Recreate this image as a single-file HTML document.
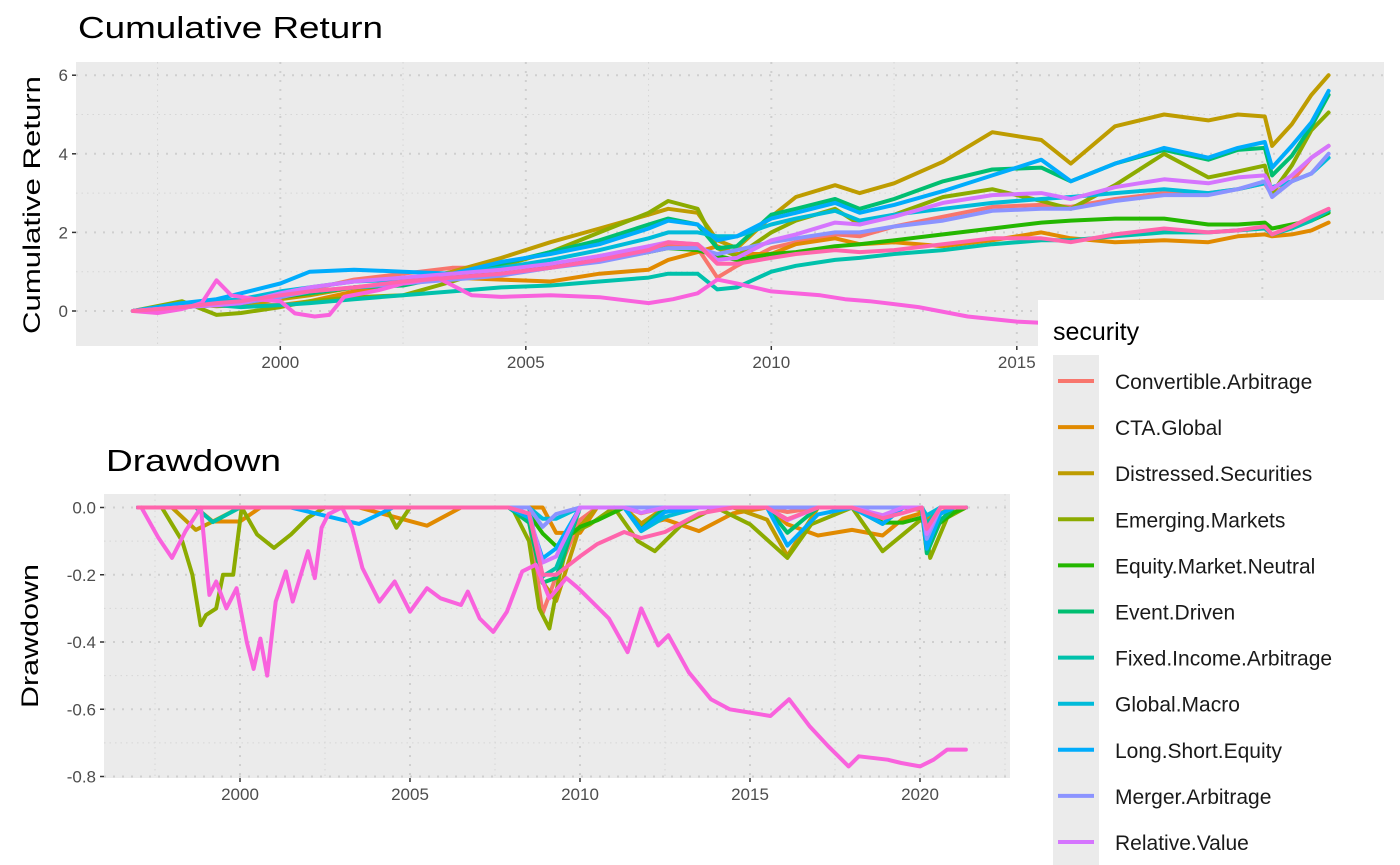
<!DOCTYPE html>
<html><head><meta charset="utf-8"><style>
html,body{margin:0;padding:0;background:#fff;}
svg{display:block;font-family:"Liberation Sans",sans-serif;}
</style></head><body>
<svg id="chart" width="1400" height="865" viewBox="0 0 1400 865" xmlns="http://www.w3.org/2000/svg">
<rect x="0" y="0" width="1400" height="865" fill="#fff"/>
<g id="gtop"></g>
<g id="gbot"></g>
<text x="78" y="38" font-size="31" fill="#000" textLength="305" lengthAdjust="spacingAndGlyphs">Cumulative Return</text>
<text x="106" y="471" font-size="31" fill="#000" textLength="175" lengthAdjust="spacingAndGlyphs">Drawdown</text>
<text transform="translate(40,205) rotate(-90)" text-anchor="middle" font-size="24" fill="#000" textLength="258" lengthAdjust="spacingAndGlyphs">Cumulative Return</text>
<text transform="translate(38,636) rotate(-90)" text-anchor="middle" font-size="24" fill="#000" textLength="144" lengthAdjust="spacingAndGlyphs">Drawdown</text>
<g id="legend"></g>
</svg>
<script>
const NS="http://www.w3.org/2000/svg";
const seriesNames=["Convertible.Arbitrage","CTA.Global","Distressed.Securities","Emerging.Markets","Equity.Market.Neutral","Event.Driven","Fixed.Income.Arbitrage","Global.Macro","Long.Short.Equity","Merger.Arbitrage","Relative.Value","Short.Selling","Funds.Of.Funds"];
const colors=["#F8766D","#E18A00","#BE9C00","#8CAB00","#24B700","#00BE70","#00C1AB","#00BBDA","#00ACFC","#8B93FF","#D575FE","#F962DD","#FF65AC"];
const T=[1997,1998,1998.7,1999.2,2000,2000.6,2001.5,2002.5,2003.5,2004.5,2005.5,2006.5,2007.5,2007.9,2008.5,2008.9,2009.3,2010,2010.5,2011.3,2011.8,2012.5,2013.5,2014.5,2015.5,2016.1,2017,2018,2018.9,2019.5,2020.05,2020.2,2020.6,2021,2021.35];
const cumConv=[0,0.15,0.2,0.25,0.4,0.55,0.8,0.95,1.1,1.1,1.15,1.4,1.6,1.7,1.6,0.85,1.15,1.6,1.75,1.95,1.9,2.15,2.4,2.65,2.7,2.65,2.85,3.0,3.0,3.1,3.25,2.95,3.3,3.9,4.2];
const cumCTA=[0,0.1,0.2,0.15,0.15,0.25,0.5,0.7,0.85,0.8,0.75,0.95,1.05,1.3,1.5,1.65,1.45,1.45,1.7,1.85,1.7,1.75,1.65,1.8,2.0,1.85,1.75,1.8,1.75,1.9,1.95,1.9,1.95,2.05,2.25];
const cumDist=[0,0.2,0.12,0.15,0.3,0.4,0.6,0.7,1.0,1.35,1.75,2.1,2.45,2.6,2.5,1.8,1.6,2.4,2.9,3.2,3.0,3.25,3.8,4.55,4.35,3.75,4.7,5.0,4.85,5.0,4.95,4.2,4.75,5.5,6.0];
const cumEM=[0,0.25,-0.1,-0.05,0.1,0.25,0.35,0.4,0.75,1.15,1.5,2.0,2.5,2.8,2.6,1.6,1.4,2.0,2.3,2.6,2.2,2.45,2.9,3.1,2.8,2.6,3.2,4.0,3.4,3.55,3.7,3.0,3.7,4.6,5.05];
const cumEMN=[0,0.1,0.15,0.2,0.35,0.45,0.6,0.7,0.85,0.95,1.1,1.3,1.5,1.6,1.55,1.4,1.3,1.45,1.5,1.65,1.7,1.8,1.95,2.1,2.25,2.3,2.35,2.35,2.2,2.2,2.25,2.1,2.2,2.3,2.5];
const cumED=[0,0.15,0.15,0.25,0.4,0.45,0.6,0.65,0.9,1.2,1.5,1.8,2.2,2.35,2.2,1.6,1.65,2.45,2.6,2.85,2.6,2.85,3.3,3.6,3.65,3.3,3.75,4.1,3.85,4.1,4.15,3.45,3.95,4.7,5.5];
const cumFIA=[0,0.1,0.15,0.1,0.15,0.2,0.3,0.4,0.5,0.6,0.65,0.75,0.85,0.95,0.95,0.55,0.6,1.0,1.15,1.3,1.35,1.45,1.55,1.7,1.8,1.8,1.9,2.0,2.0,2.05,2.1,1.95,2.1,2.3,2.55];
const cumGM=[0,0.15,0.25,0.3,0.5,0.6,0.75,0.8,0.95,1.1,1.3,1.55,1.85,2.0,2.0,1.9,1.9,2.2,2.35,2.55,2.3,2.45,2.6,2.75,2.85,2.9,3.0,3.1,3.0,3.1,3.25,3.15,3.3,3.5,3.9];
const cumLSE=[0,0.2,0.3,0.45,0.7,1.0,1.05,1.0,0.95,1.25,1.45,1.7,2.1,2.3,2.2,1.8,1.9,2.35,2.5,2.75,2.5,2.7,3.05,3.45,3.85,3.3,3.75,4.15,3.9,4.15,4.3,3.65,4.2,4.8,5.6];
const cumMA=[0,0.1,0.15,0.2,0.35,0.5,0.6,0.7,0.8,0.9,1.1,1.25,1.5,1.6,1.6,1.45,1.55,1.75,1.85,2.0,2.0,2.15,2.3,2.55,2.6,2.6,2.8,2.95,2.95,3.1,3.3,2.9,3.3,3.5,4.0];
const cumRV=[0,0.1,0.15,0.2,0.45,0.6,0.75,0.85,0.95,1.05,1.2,1.4,1.65,1.75,1.7,1.3,1.35,1.8,1.95,2.25,2.2,2.4,2.75,2.95,3.0,2.85,3.15,3.35,3.25,3.4,3.45,3.1,3.45,3.9,4.2];
const cumFoF=[0,0.1,0.2,0.25,0.4,0.5,0.6,0.75,0.85,0.95,1.1,1.3,1.55,1.75,1.7,1.2,1.2,1.35,1.45,1.55,1.5,1.55,1.7,1.85,1.85,1.75,1.95,2.1,2.0,2.05,2.15,1.95,2.15,2.4,2.6];
const tSS=[1997,1997.5,1998,1998.4,1998.7,1999.0,1999.5,2000,2000.3,2000.7,2001.0,2001.3,2002,2002.5,2003.2,2003.9,2004.5,2005.5,2006.5,2007.5,2008,2008.5,2008.9,2009.3,2010,2011,2011.5,2012,2013,2014,2015,2016,2017,2018,2019,2020,2021,2021.35];
const cumSS=[0,-0.05,0.05,0.2,0.78,0.4,0.3,0.25,-0.06,-0.14,-0.1,0.36,0.53,0.7,0.85,0.4,0.36,0.4,0.35,0.2,0.3,0.45,0.8,0.7,0.5,0.4,0.3,0.25,0.1,-0.14,-0.27,-0.33,-0.45,-0.57,-0.57,-0.58,-0.52,-0.48];
const tDdSS=[1997.1,1997.6,1998.0,1998.4,1998.85,1999.1,1999.3,1999.6,1999.9,2000.2,2000.4,2000.6,2000.8,2001.05,2001.35,2001.55,2002.0,2002.2,2002.4,2002.6,2003.0,2003.3,2003.6,2004.1,2004.55,2005.0,2005.5,2005.9,2006.5,2006.7,2007.05,2007.45,2007.85,2008.3,2008.7,2009.1,2009.6,2009.95,2010.45,2010.85,2011.4,2011.8,2012.3,2012.6,2013.2,2013.85,2014.4,2015.0,2015.6,2016.15,2016.75,2017.3,2017.9,2018.2,2019.05,2019.45,2020.0,2020.4,2020.8,2021.35];
const ddSS=[0,-0.09,-0.15,-0.07,0,-0.26,-0.22,-0.3,-0.24,-0.4,-0.48,-0.39,-0.5,-0.28,-0.19,-0.28,-0.13,-0.21,-0.06,-0.02,0,-0.06,-0.18,-0.28,-0.22,-0.31,-0.24,-0.27,-0.29,-0.25,-0.33,-0.37,-0.31,-0.19,-0.17,-0.27,-0.21,-0.24,-0.29,-0.33,-0.43,-0.3,-0.41,-0.38,-0.49,-0.57,-0.6,-0.61,-0.62,-0.57,-0.65,-0.71,-0.77,-0.74,-0.75,-0.76,-0.77,-0.75,-0.72,-0.72];
const tDdEM=[1997,1997.7,1998.0,1998.3,1998.6,1998.84,1999.0,1999.3,1999.5,1999.8,2000.05,2000.5,2001,2001.5,2002,2002.5,2004.3,2004.6,2005,2008.0,2008.5,2008.8,2009.1,2009.4,2009.7,2010.3,2011,2011.7,2012.2,2013,2014,2015,2016.1,2016.8,2018,2018.9,2019.5,2020.1,2020.3,2020.8,2021.35];
const ddEM=[0,0,-0.05,-0.1,-0.2,-0.35,-0.32,-0.3,-0.2,-0.2,0,-0.08,-0.12,-0.08,-0.03,0,0,-0.06,0,0,-0.1,-0.3,-0.36,-0.2,-0.08,-0.05,0,-0.1,-0.13,-0.05,0,-0.05,-0.15,-0.05,0,-0.13,-0.08,-0.03,-0.15,-0.03,0];
const cumList=[cumConv,cumCTA,cumDist,cumEM,cumEMN,cumED,cumFIA,cumGM,cumLSE,cumMA,cumRV,cumSS,cumFoF];
const yTopTicks=[0,2,4,6];
const yBotTicks=[0,-0.2,-0.4,-0.6,-0.8];
const yBotLabels=["0.0","-0.2","-0.4","-0.6","-0.8"];
const xYearTicks=[2000,2005,2010,2015,2020];

const TP={x:76,y:62,w:1308,h:284};
const BP={x:104,y:494,w:906,h:284};
const xT=yr=>133+(yr-1997)*49.1;
const yT=v=>311-v*39.3;
const xB=yr=>138+(yr-1997)*34;
const yB=v=>507.5-v*336.25;

function mk(tag,attrs,parent){const e=document.createElementNS(NS,tag);for(const k in attrs)e.setAttribute(k,attrs[k]);parent.appendChild(e);return e;}

function panel(g,P,xs,ys,xMaj,yMaj,yMin,xMin,yLabels,nameP){
  const bg=mk('rect',{x:P.x,y:P.y,width:P.w,height:P.h,fill:'#ebebeb'},g);
  
  
  yMin.forEach(v=>{const l=mk('line',{x1:P.x,x2:P.x+P.w,y1:ys(v),y2:ys(v),stroke:'#d6d6d6','stroke-width':1,'stroke-dasharray':'1.5,4'},g);
    
    });
  xMin.forEach(v=>{const x=xs(v);if(x>P.x+P.w)return;const l=mk('line',{x1:x,x2:x,y1:P.y,y2:P.y+P.h,stroke:'#d6d6d6','stroke-width':1,'stroke-dasharray':'1.5,4'},g);
    
    });
  yMaj.forEach((v,i)=>{const l=mk('line',{x1:P.x,x2:P.x+P.w,y1:ys(v),y2:ys(v),stroke:'#cfcfcf','stroke-width':2,'stroke-dasharray':'2,7'},g);
    
    
    mk('line',{x1:P.x-4,x2:P.x,y1:ys(v),y2:ys(v),stroke:'#333','stroke-width':1.5},g);
    const t=mk('text',{x:P.x-8,y:ys(v)+6,'text-anchor':'end','font-size':17,fill:'#4d4d4d'},g);
    t.textContent=yLabels[i];
    
    });
  xMaj.forEach(v=>{const x=xs(v);if(x>P.x+P.w)return;
    const l=mk('line',{x1:x,x2:x,y1:P.y,y2:P.y+P.h,stroke:'#cfcfcf','stroke-width':2,'stroke-dasharray':'2,7'},g);
    
    
    mk('line',{x1:x,x2:x,y1:P.y+P.h,y2:P.y+P.h+4,stroke:'#333','stroke-width':1.5},g);
    const t=mk('text',{x:x,y:P.y+P.h+22,'text-anchor':'middle','font-size':17,fill:'#4d4d4d'},g);
    t.textContent=String(v);
    
    });
}
function path(g,ts,vs,xs,ys,col,name){
  let d='';ts.forEach((t,i)=>{d+=(i?'L':'M')+xs(t).toFixed(1)+','+ys(vs[i]).toFixed(1);});
  const p=mk('path',{d:d,fill:'none',stroke:col,'stroke-width':4,'stroke-linejoin':'round','stroke-linecap':'round'},g);
  
  
}
function drawdown(vs){let mx=1;return vs.map(v=>{const w=1+v;if(w>mx)mx=w;return w/mx-1;});}

const gTop=document.getElementById('gtop'),gBot=document.getElementById('gbot');
panel(gTop,TP,xT,yT,xYearTicks,yTopTicks,[1,3,5],[1997.5,2002.5,2007.5,2012.5,2017.5,2022.5],yTopTicks.map(String),'cumulative');
panel(gBot,BP,xB,yB,xYearTicks,yBotTicks,[-0.1,-0.3,-0.5,-0.7],[1997.5,2002.5,2007.5,2012.5,2017.5,2022.5],yBotLabels,'drawdown');
cumList.forEach((c,i)=>{
  const ts=(i===11)?tSS:T;
  path(gTop,ts,c,xT,yT,colors[i],'cum-line-'+seriesNames[i].toLowerCase().replace(/\./g,'-'));
  let dts=T,dvs=drawdown(c);
  if(i===11){dts=tDdSS;dvs=ddSS;}
  if(i===3){dts=tDdEM;dvs=ddEM;}
  path(gBot,dts,dvs,xB,yB,colors[i],'drawdown-line-'+seriesNames[i].toLowerCase().replace(/\./g,'-'));
});

const lg=document.getElementById('legend');
mk('rect',{x:1038,y:300,width:362,height:565,fill:'#fff'},lg);
const lt=mk('text',{x:1053,y:340,'font-size':25,fill:'#000'},lg);lt.textContent='security';


mk('rect',{x:1053,y:355,width:46,height:510,fill:'#ebebeb'},lg);
seriesNames.forEach((n,i)=>{const y=381+i*46.1;if(y>870)return;
  const g=mk('g',{},lg);
  
  
  mk('line',{x1:1058,x2:1094,y1:y,y2:y,stroke:colors[i],'stroke-width':4},g);
  const t=mk('text',{x:1115,y:y+8,'font-size':21,fill:'#1a1a1a'},g);t.textContent=n;
});
</script>
</body></html>
